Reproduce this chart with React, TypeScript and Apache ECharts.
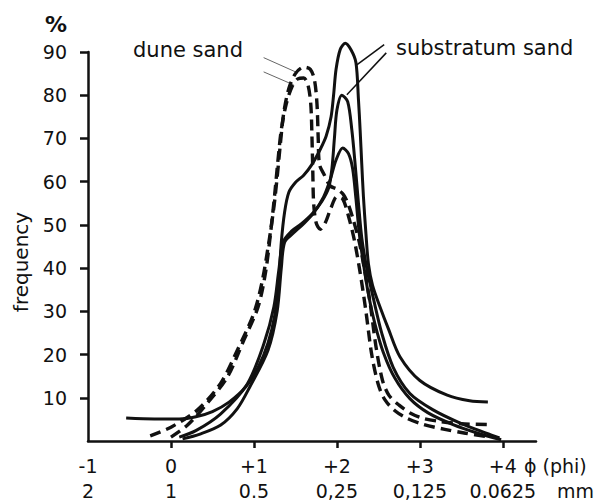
import React, { useEffect, useRef } from "react";
import * as echarts from "echarts";

// x axis: grain size in phi units, with matching size in mm
const phiTicks = [-1, 0, 1, 2, 3, 4];
const phiLabels = ["-1", "0", "+1", "+2", "+3", "+4"];
const mmLabels = ["2", "1", "0.5", "0,25", "0,125", "0.0625"];
// y axis: frequency (%)
const yTicks = [10, 20, 30, 40, 50, 60, 70, 80, 90];

// substratum sand (solid curves) [phi, %]
const substratumA: [number, number][] = [
  [-0.54, 5.3], [-0.2, 5.1], [0.1, 5.1], [0.3, 5.6], [0.5, 6.8], [0.7, 9], [0.9, 12.5],
  [1.05, 17], [1.17, 22.7], [1.25, 29], [1.3, 37], [1.33, 46], [1.37, 53], [1.42, 57.5],
  [1.5, 59.8], [1.6, 61.5], [1.7, 64], [1.8, 67.5], [1.87, 70.5], [1.93, 75], [1.96, 80],
  [1.99, 86], [2.04, 90.6], [2.1, 92], [2.17, 90.5], [2.23, 87.5], [2.26, 79], [2.28, 72],
  [2.3, 64], [2.32, 56.5], [2.35, 48], [2.38, 41], [2.43, 36], [2.52, 31], [2.62, 26],
  [2.76, 19.5], [3.0, 14], [3.33, 10.6], [3.6, 9.3], [3.82, 9],
];
const substratumB: [number, number][] = [
  [0.1, 0.9], [0.3, 2.4], [0.6, 6.3], [0.92, 13.2], [1.12, 22.5], [1.24, 31], [1.3, 39.5],
  [1.35, 46], [1.45, 48.5], [1.57, 50.2], [1.7, 52.5], [1.82, 55.5], [1.9, 58.5], [1.94, 63],
  [1.97, 70], [2.0, 76.5], [2.06, 80], [2.13, 78.5], [2.18, 72], [2.22, 64], [2.26, 55],
  [2.3, 47], [2.36, 40], [2.44, 33], [2.54, 25], [2.68, 17], [2.88, 11], [3.16, 7.2],
  [3.48, 4.2], [3.8, 1.8], [3.96, 0.7],
];
const substratumC: [number, number][] = [
  [0.14, 0.5], [0.35, 1.6], [0.6, 3.7], [0.8, 7.5], [0.95, 12.5], [1.17, 21], [1.28, 30],
  [1.33, 40], [1.37, 46], [1.47, 48], [1.6, 50.3], [1.72, 52.8], [1.84, 56.5], [1.92, 60.5],
  [1.99, 65], [2.07, 67.8], [2.14, 66.5], [2.19, 63], [2.23, 56], [2.27, 48], [2.32, 41],
  [2.38, 34], [2.46, 27], [2.56, 20.5], [2.7, 14.5], [2.88, 9.8], [3.1, 6.5], [3.4, 3.8],
  [3.7, 1.8], [3.98, 0.3],
];

// dune sand (dashed curves) [phi, %]
const duneA: [number, number][] = [
  [-0.25, 1.2], [0, 3.2], [0.32, 7.2], [0.6, 13.4], [0.8, 21], [1.0, 29.6], [1.1, 37],
  [1.18, 46], [1.24, 54], [1.28, 61], [1.32, 69], [1.36, 76], [1.42, 81.5], [1.5, 85],
  [1.6, 86.5], [1.68, 86], [1.73, 83.5], [1.76, 78], [1.775, 70], [1.79, 64], [1.85, 61.5],
  [1.92, 59], [2.0, 58.3], [2.08, 57], [2.14, 54.6], [2.2, 51], [2.27, 46], [2.33, 40],
  [2.4, 32], [2.47, 22], [2.55, 14], [2.63, 10.5], [2.75, 8.3], [2.9, 6.3], [3.05, 5.2],
  [3.25, 4.5], [3.5, 4.0], [3.82, 3.8],
];
const duneB: [number, number][] = [
  [0, 0.9], [0.2, 3.7], [0.44, 8.8], [0.68, 14.8], [0.88, 23.4], [1.05, 31], [1.14, 39],
  [1.2, 48], [1.25, 57], [1.29, 65], [1.33, 72], [1.39, 78], [1.46, 82], [1.53, 83.8],
  [1.6, 84], [1.65, 82.5], [1.685, 78], [1.7, 70], [1.71, 62], [1.72, 55], [1.75, 50.5],
  [1.8, 49], [1.86, 50.5], [1.93, 54], [2.0, 56.5], [2.07, 56], [2.14, 52], [2.21, 46.5],
  [2.28, 39], [2.35, 30], [2.42, 20], [2.5, 13], [2.58, 9.5], [2.7, 7], [2.85, 5.2],
  [3.05, 3.8], [3.3, 2.7], [3.55, 1.8], [3.82, 1.0],
];

// leader lines from the labels to the curves, in data coordinates
const duneLeaderA: [number, number][] = [[1.117, 88.7], [1.525, 85.2]];
const duneLeaderB: [number, number][] = [[1.117, 85.4], [1.478, 82.4]];
const substratumLeaderA: [number, number][] = [[2.57, 91.7], [2.24, 87]];
const substratumLeaderB: [number, number][] = [[2.595, 89.8], [2.12, 80.1]];

const FONT = "DejaVu Sans";
const INK = "#111";

export default function App() {
  const ref = useRef<HTMLDivElement>(null);
  useEffect(() => {
    if (!ref.current) return;
    const chart = echarts.init(ref.current, undefined, { renderer: "svg" });

    const curve = (name: string, data: [number, number][], dashed: boolean) => ({
      type: "line",
      name,
      data,
      symbol: "none",
      showSymbol: false,
      smooth: 0.3,
      silent: true,
      clip: false,
      z: 3,
      lineStyle: { color: INK, width: dashed ? 3.4 : 3, type: dashed ? [11, 6] : "solid", cap: "butt", join: "round" },
      emphasis: { disabled: true },
    });
    const leader = (name: string, data: [number, number][], color: string, width: number) => ({
      type: "line",
      name,
      data,
      symbol: "none",
      showSymbol: false,
      smooth: false,
      silent: true,
      clip: false,
      z: 2,
      lineStyle: { color, width, type: "solid" },
      emphasis: { disabled: true },
    });

    chart.setOption({
      animation: false,
      backgroundColor: "#fff",
      textStyle: { fontFamily: FONT },
      grid: { left: 88, right: 62, top: 52, bottom: 62 },
      xAxis: {
        type: "value",
        min: -1,
        max: 4.4,
        splitLine: { show: false },
        axisLine: { onZero: false, lineStyle: { color: INK, width: 2.5 } },
        axisTick: { customValues: phiTicks.slice(1), length: 7, lineStyle: { color: INK, width: 2.5 } },
        axisLabel: {
          customValues: phiTicks,
          margin: 12,
          color: INK,
          fontSize: 19,
          fontFamily: FONT,
          lineHeight: 25,
          formatter: (v: number) => {
            const i = phiTicks.indexOf(Math.round(v));
            return i < 0 ? "" : phiLabels[i] + "\n" + mmLabels[i];
          },
        },
      },
      yAxis: {
        type: "value",
        min: 0,
        max: 90,
        interval: 10,
        splitLine: { show: false },
        axisLine: { onZero: false, lineStyle: { color: INK, width: 2.5 } },
        axisTick: { customValues: yTicks, length: 8, lineStyle: { color: INK, width: 2.5 } },
        axisLabel: { customValues: yTicks, margin: 21, color: INK, fontSize: 19, fontFamily: FONT },
      },
      graphic: [
        { type: "text", x: 56, y: 24, style: { text: "%", fill: INK, font: `bold 22px "${FONT}"`, textAlign: "center", textVerticalAlign: "middle" } },
        { type: "text", x: 21, y: 262, rotation: Math.PI / 2, style: { text: "frequency", fill: INK, font: `20px "${FONT}"`, textAlign: "center", textVerticalAlign: "middle" } },
        { type: "text", x: 133, y: 50, style: { text: "dune sand", fill: INK, font: `21px "${FONT}"`, textAlign: "left", textVerticalAlign: "middle" } },
        { type: "text", x: 396, y: 48, style: { text: "substratum sand", fill: INK, font: `21px "${FONT}"`, textAlign: "left", textVerticalAlign: "middle" } },
        { type: "text", x: 524, y: 466, style: { text: "\u03d5 (phi)", fill: INK, font: `19px "${FONT}"`, textAlign: "left", textVerticalAlign: "middle" } },
        { type: "text", x: 557, y: 491, style: { text: "mm", fill: INK, font: `19px "${FONT}"`, textAlign: "left", textVerticalAlign: "middle" } },
      ],
      series: [
        curve("substratum sand A", substratumA, false),
        curve("substratum sand B", substratumB, false),
        curve("substratum sand C", substratumC, false),
        curve("dune sand A", duneA, true),
        curve("dune sand B", duneB, true),
        leader("dune leader A", duneLeaderA, "#666", 1),
        leader("dune leader B", duneLeaderB, "#666", 1),
        leader("substratum leader A", substratumLeaderA, INK, 1.5),
        leader("substratum leader B", substratumLeaderB, INK, 1.5),
      ],
    });
    return () => chart.dispose();
  }, []);
  return <div ref={ref} style={{ position: "fixed", left: 0, top: 0, width: 598, height: 503, background: "#fff" }} />;
}
